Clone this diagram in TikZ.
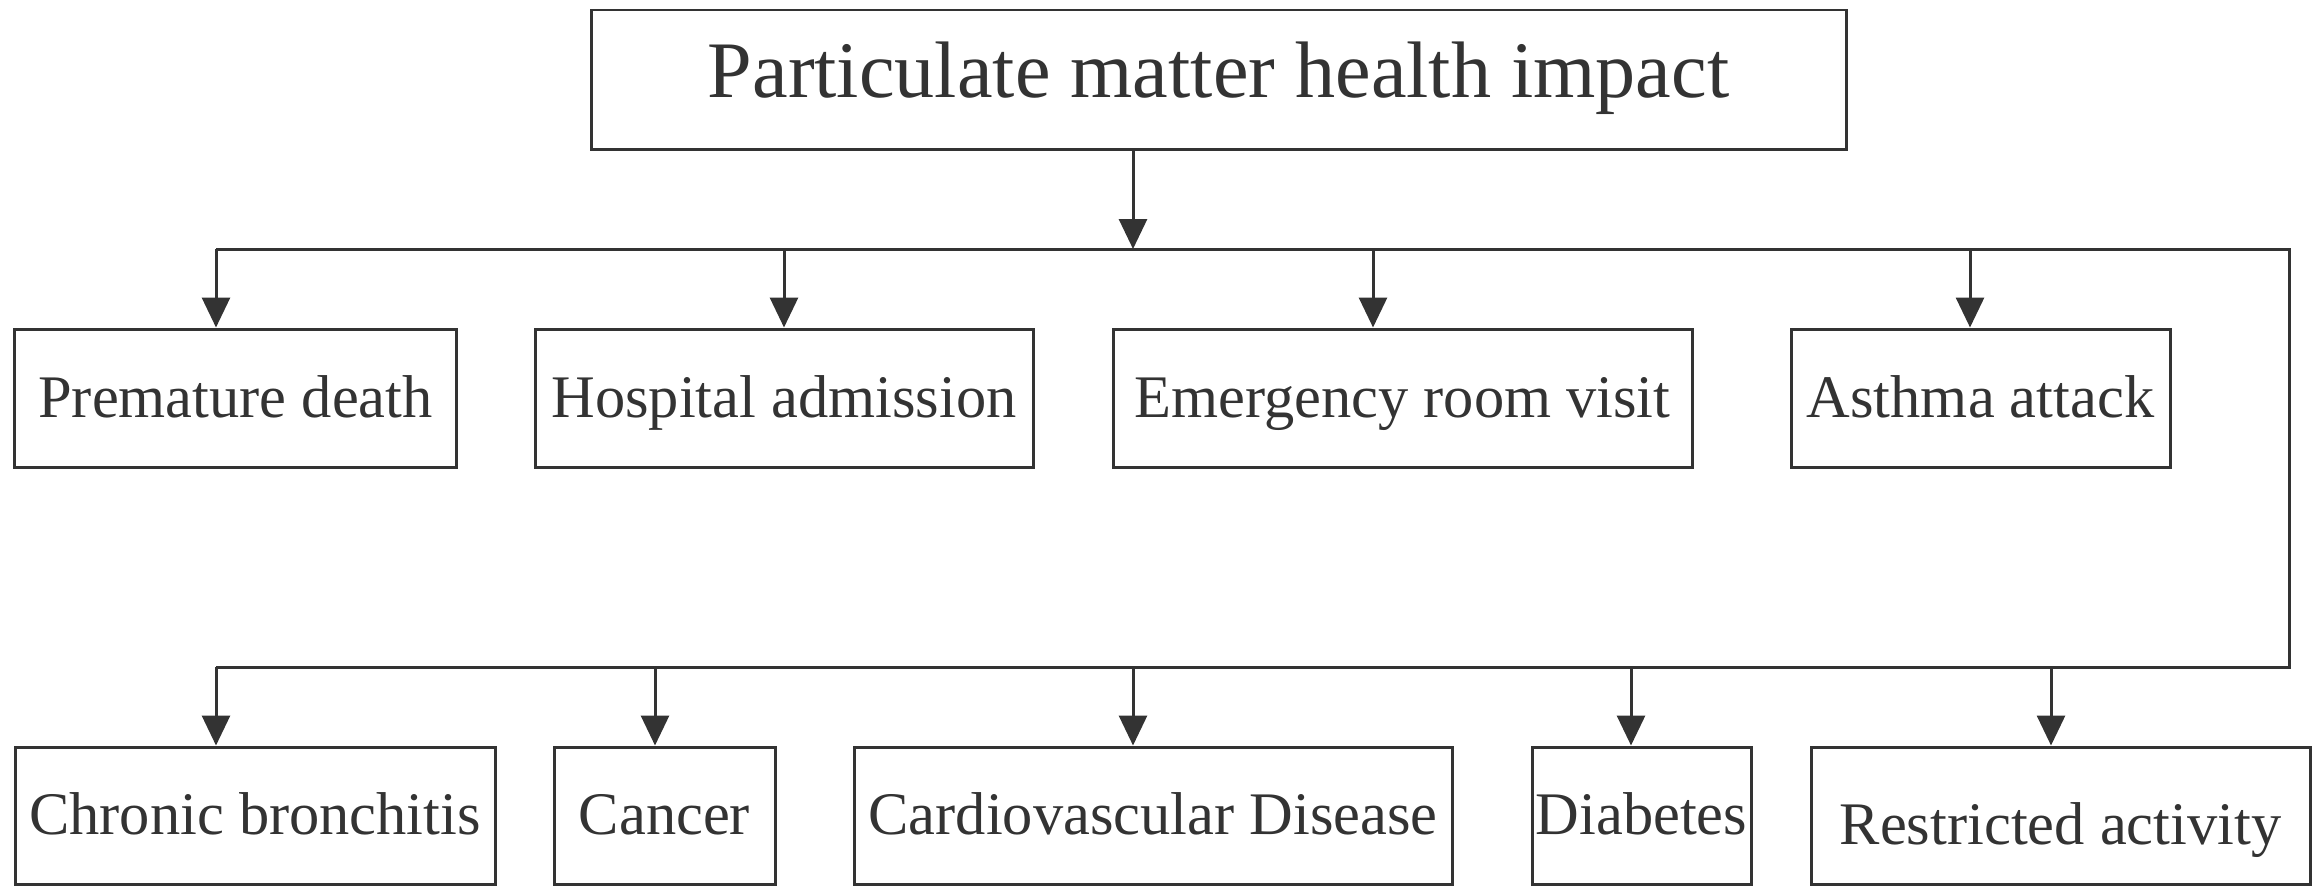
\documentclass[tikz,border=0pt]{standalone}
\usepackage{fontspec}
\setmainfont{Liberation Serif}
\usetikzlibrary{arrows.meta}
\definecolor{inkgray}{HTML}{333333}

\tikzset{
  box/.style = {draw = inkgray, line width = 0.03cm, inner sep = 0pt,
    text = inkgray, minimum height = 1.38cm,
    font = \fontsize{17.2}{20}\selectfont,
    text height = 0.40cm, text depth = 0.02cm},
  headbox/.style = {box, minimum height = 1.39cm,
    font = \fontsize{22.8}{27}\selectfont,
    text height = 0.54cm, text depth = 0.19cm},
  link/.style = {draw = inkgray, line width = 0.03cm},
  arr/.style = {link, -{Triangle[length = 0.30cm, width = 0.28cm]}}
}

\begin{document}
\begin{tikzpicture}
    \useasboundingbox (0, 0) rectangle (23.16, -8.86);

    % top
    \node[headbox, minimum width = 12.55cm] (impact) at (12.185, -0.795)
      {Particulate matter health impact};

    % first row
    \node[box, minimum width = 4.41cm] (death) at (2.355, -3.98) {Premature death};
    \node[box, minimum width = 4.98cm] (hosp) at (7.84, -3.98) {Hospital admission};
    \node[box, minimum width = 5.79cm] (emerg) at (14.025, -3.98) {Emergency room visit};
    \node[box, minimum width = 3.79cm] (asthma) at (19.805, -3.98) {Asthma attack};

    % second row
    \node[box, minimum width = 4.80cm, minimum height = 1.37cm] (bronch) at (2.55, -8.155)
      {Chronic bronchitis};
    \node[box, minimum width = 2.21cm, minimum height = 1.37cm] (cancer) at (6.645, -8.155)
      {Cancer};
    \node[box, minimum width = 5.98cm, minimum height = 1.37cm] (cardio) at (11.53, -8.155)
      {Cardiovascular Disease};
    \node[box, minimum width = 2.19cm, minimum height = 1.37cm] (diab) at (16.415, -8.155)
      {Diabetes};
    \node[box, minimum width = 4.99cm, minimum height = 1.37cm, text height = 0.6cm]
      (restr) at (20.605, -8.155) {Restricted activity};

    % bus lines
    \coordinate (busA-w) at (2.16, -2.49);
    \coordinate (busA-e) at (22.89, -2.49);
    \coordinate (busB-e) at (22.89, -6.67);
    \coordinate (busB-w) at (2.16, -6.67);
    \draw[link, line join = miter] (busA-w) -- (busA-e) -- (busB-e) -- (busB-w);

    \path ([xshift = -0.855cm]impact.south) coordinate (impact-out);
    \draw[arr] (impact-out) -- (impact-out |- busA-w);

    \foreach \name/\dx in {death/-0.195, hosp/0, emerg/-0.295, asthma/-0.105} {
      \path ([xshift = \dx cm]\name.north) coordinate (\name-in);
      \draw[arr] (\name-in |- busA-w) -- (\name-in);
    }
    \foreach \name/\dx in {bronch/-0.39, cancer/-0.095, cardio/-0.20, diab/-0.105, restr/-0.095} {
      \path ([xshift = \dx cm]\name.north) coordinate (\name-in);
      \draw[arr] (\name-in |- busB-w) -- (\name-in);
    }
\end{tikzpicture}
\end{document}
